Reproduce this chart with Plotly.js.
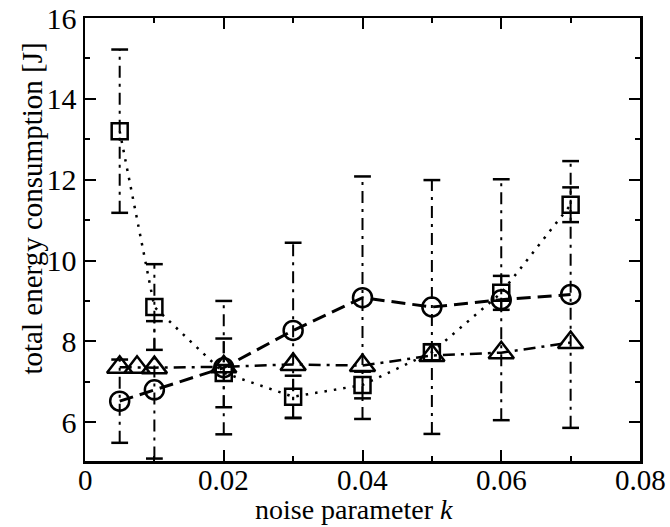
<!DOCTYPE html>
<html>
<head>
<meta charset="utf-8">
<script src="https://cdn.plot.ly/plotly-3.0.1.min.js"></script>
<style>html,body{margin:0;padding:0;background:#fff;}#chart{width:670px;height:527px;}</style>
</head>
<body>
<div id="chart"></div>
<script>
// noise parameter k
const xSquare = [0.005, 0.01, 0.02, 0.03, 0.04, 0.05, 0.06, 0.07];
const ySquare = [13.2, 8.85, 7.22, 6.63, 6.92, 7.73, 9.2, 11.38];
const eSquare = [2.02, 1.06, 0.85, 0.52, 0.33, 0.2, 0.42, 0.43];

const xCircle = [0.005, 0.01, 0.02, 0.03, 0.04, 0.05, 0.06, 0.07];
const yCircle = [6.52, 6.8, 7.35, 8.27, 9.08, 8.85, 9.03, 9.16];
const eCircle = [1.03, 1.7, 1.65, 2.17, 3.0, 3.14, 2.98, 3.3];

const xTriangle = [0.005, 0.0075, 0.01, 0.02, 0.03, 0.04, 0.05, 0.06, 0.07];
const yTriangle = [7.36, 7.36, 7.35, 7.37, 7.43, 7.4, 7.65, 7.72, 7.97];

const xTickVals = [0, 0.02, 0.04, 0.06, 0.08];
const xTickText = ['0', '0.02', '0.04', '0.06', '0.08'];
const yTickVals = [6, 8, 10, 12, 14, 16];
const yTickText = ['6', '8', '10', '12', '14', '16'];

const xTitle = 'noise parameter <i>k</i>';
const yTitle = 'total energy consumption [J]';

const FONT = "'Liberation Serif', 'Times New Roman', serif";
const ERR_DASH = '12px,6px,3px,6px';

function errorTraces(xs, ys, es) {
  const lx = [], ly = [], cx = [], cy = [];
  xs.forEach((x, i) => {
    lx.push(x, x, null);
    ly.push(ys[i] - es[i], ys[i] + es[i], null);
    cx.push(x, x);
    cy.push(ys[i] - es[i], ys[i] + es[i]);
  });
  return [
    {x: lx, y: ly, mode: 'lines', line: {color: '#000', width: 2, dash: ERR_DASH},
     hoverinfo: 'skip', showlegend: false},
    {x: cx, y: cy, mode: 'markers', hoverinfo: 'skip', showlegend: false,
     marker: {symbol: 'line-ew', size: 12, color: '#000', line: {color: '#000', width: 2.5}}}
  ];
}

const traces = [
  ...errorTraces(xSquare, ySquare, eSquare),
  ...errorTraces(xCircle, yCircle, eCircle),
  {x: xSquare, y: ySquare, mode: 'lines+markers', name: 'square',
   line: {color: '#000', width: 2.5, dash: '2.5px,7px'},
   marker: {symbol: 'square-open', size: 16, color: '#000', line: {color: '#000', width: 2.5}}},
  {x: xCircle, y: yCircle, mode: 'lines+markers', name: 'circle',
   line: {color: '#000', width: 3, dash: '14px,7px'},
   marker: {symbol: 'circle-open', size: 19, color: '#000', line: {color: '#000', width: 2.5}}},
  {x: xTriangle, y: yTriangle, mode: 'lines+markers', name: 'triangle',
   line: {color: '#000', width: 2.5, dash: '12px,6px,3px,6px'},
   marker: {symbol: 'triangle-up-open', size: 22, color: '#000', line: {color: '#000', width: 2.5}}}
];

const axisCommon = {
  showgrid: false, zeroline: false, showline: true, linecolor: '#000', linewidth: 2.5,
  mirror: 'ticks', ticks: 'inside', ticklen: 11, tickwidth: 2, tickcolor: '#000',
  tickfont: {family: FONT, size: 30, color: '#000'}
};

// x tick labels placed as annotations at the axis tick values (closer to the axis, as in the reference)
const xTickAnnotations = xTickVals.map((v, i) => ({
  text: xTickText[i], xref: 'x', yref: 'paper', x: v, y: 0, yshift: -19,
  xanchor: 'center', yanchor: 'middle', showarrow: false,
  font: {family: FONT, size: 29, color: '#000'}
}));

const layout = {
  width: 670, height: 527,
  margin: {l: 85, r: 30, t: 18, b: 66},
  paper_bgcolor: '#fff', plot_bgcolor: '#fff',
  showlegend: false,
  font: {family: FONT, color: '#000'},
  xaxis: Object.assign({}, axisCommon, {
    range: [0, 0.08], tickmode: 'array', tickvals: xTickVals, ticktext: xTickText,
    showticklabels: false,
    minor: {dtick: 0.01, tick0: 0, ticks: 'inside', ticklen: 5, tickwidth: 2, tickcolor: '#000', showgrid: false}
  }),
  yaxis: Object.assign({}, axisCommon, {
    range: [5.04, 16], tickmode: 'array', tickvals: yTickVals, ticktext: yTickText,
    minor: {dtick: 1, tick0: 0, ticks: 'inside', ticklen: 5, tickwidth: 2, tickcolor: '#000', showgrid: false}
  }),
  annotations: [
    ...xTickAnnotations,
    {text: xTitle, xref: 'paper', yref: 'paper', x: 0.485, y: 0, yshift: -66,
     xanchor: 'center', yanchor: 'bottom', showarrow: false, font: {family: FONT, size: 28, color: '#000'}},
    {text: yTitle, xref: 'paper', yref: 'paper', x: 0, xshift: -53, y: 0.57,
     xanchor: 'center', yanchor: 'middle', textangle: -90, showarrow: false,
     font: {family: FONT, size: 29, color: '#000'}}
  ]
};

Plotly.newPlot('chart', traces, layout, {displayModeBar: false, staticPlot: true});
</script>
</body>
</html>
